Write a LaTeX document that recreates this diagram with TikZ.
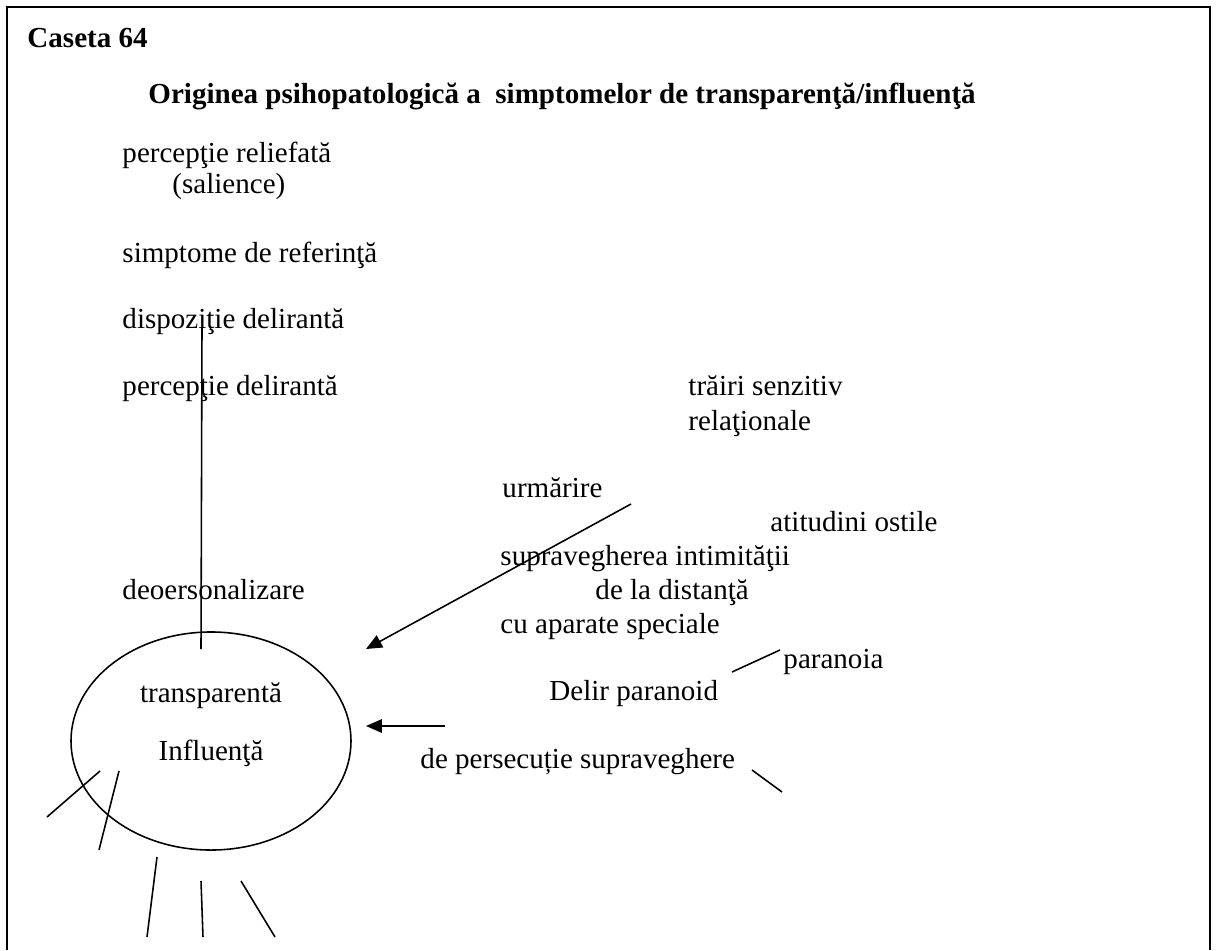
\documentclass[tikz,border=0pt]{standalone}
\usepackage{fontspec}
\setmainfont{Liberation Serif}
\usetikzlibrary{shapes.geometric,arrows.meta}

\tikzset{
  txt/.style={anchor=base west, inner sep=0pt, font=\fontsize{12}{14}\selectfont},
  ctxt/.style={anchor=base, inner sep=0pt, font=\fontsize{12}{14}\selectfont},
  btxt/.style={anchor=base west, inner sep=0pt, font=\fontsize{12}{14}\selectfont\bfseries},
  ln/.style={line width=0.65pt},
  arr/.style={line width=0.65pt, -{Triangle[length=6.6pt,width=5.6pt]}},
  frame/.style={line width=0.85pt}
}

\begin{document}
\begin{tikzpicture}[x=0.4132pt, y=-0.4132pt]
  \useasboundingbox (0,0) rectangle (1218,950);

  % open box: left, top and right sides
  \draw[frame] (7,950) -- (7,7) -- (1210,7) -- (1210,950);

  % headings
  \node[btxt] (caseta) at (27,47) {Caseta 64};
  \node[btxt] (title) at (148,103) {Originea psihopatologică a\ \ simptomelor de transparenţă/influenţă};

  % left column
  \node[txt] (salpr) at (122,162) {percepţie reliefată};
  \node[txt] (sal) at (172,193) {(salience)};
  \node[txt] (ref) at (122,262) {simptome de referinţă};
  \node[txt] (disp) at (122,328) {dispoziţie delirantă};
  \node[txt] (pdel) at (122,395) {percepţie delirantă};
  \node[txt] (deo) at (122,599) {deoersonalizare};

  % right column
  \node[txt] (trai) at (688,395) {trăiri senzitiv};
  \node[txt] (rel) at (688,430) {relaţionale};
  \node[txt] (urm) at (502,497) {urmărire};
  \node[txt] (ost) at (770,531) {atitudini ostile};
  \node[txt] (intim) at (500,565) {supravegherea intimităţii};
  \node[txt] (dist) at (595,599) {de la distanţă};
  \node[txt] (apar) at (500,633) {cu aparate speciale};
  \node[txt] (para) at (783,668) {paranoia};
  \node[txt] (delir) at (549,700) {Delir paranoid};
  \node[txt] (pers) at (420,768) {de persecuție supraveghere};

  % central ellipse
  \node[ellipse, draw, ln, inner sep=0pt, minimum width=115.7pt, minimum height=90.1pt] (core) at (211,741) {};
  \node[ctxt] (transp) at (211,702) {transparentă};
  \node[ctxt] (infl) at (211,760) {Influenţă};

  % connector ends
  \coordinate (vtop) at (202,328);
  \coordinate (vbot) at (201,649);
  \coordinate (a1s) at (631,504);
  \coordinate (a1e) at (366,649);
  \coordinate (a2s) at (445,726);
  \coordinate (a2e) at (366,726);
  \coordinate (p1) at (732,672);
  \coordinate (p2) at (780,650);
  \coordinate (s1) at (752,770);
  \coordinate (s2) at (782,792);
  \coordinate (r1a) at (100,771);
  \coordinate (r1b) at (47,817);
  \coordinate (r2a) at (119,771);
  \coordinate (r2b) at (99,850);
  \coordinate (r3a) at (157,857);
  \coordinate (r3b) at (147,937);
  \coordinate (r4a) at (201,881);
  \coordinate (r4b) at (203,937);
  \coordinate (r5a) at (241,881);
  \coordinate (r5b) at (275,937);

  % connectors
  \draw[ln] (vtop) -- (vbot);
  \draw[arr] (a1s) -- (a1e);
  \draw[arr] (a2s) -- (a2e);
  \draw[ln] (p1) -- (p2);
  \draw[ln] (s1) -- (s2);
  \draw[ln] (r1a) -- (r1b);
  \draw[ln] (r2a) -- (r2b);
  \draw[ln] (r3a) -- (r3b);
  \draw[ln] (r4a) -- (r4b);
  \draw[ln] (r5a) -- (r5b);
\end{tikzpicture}
\end{document}
